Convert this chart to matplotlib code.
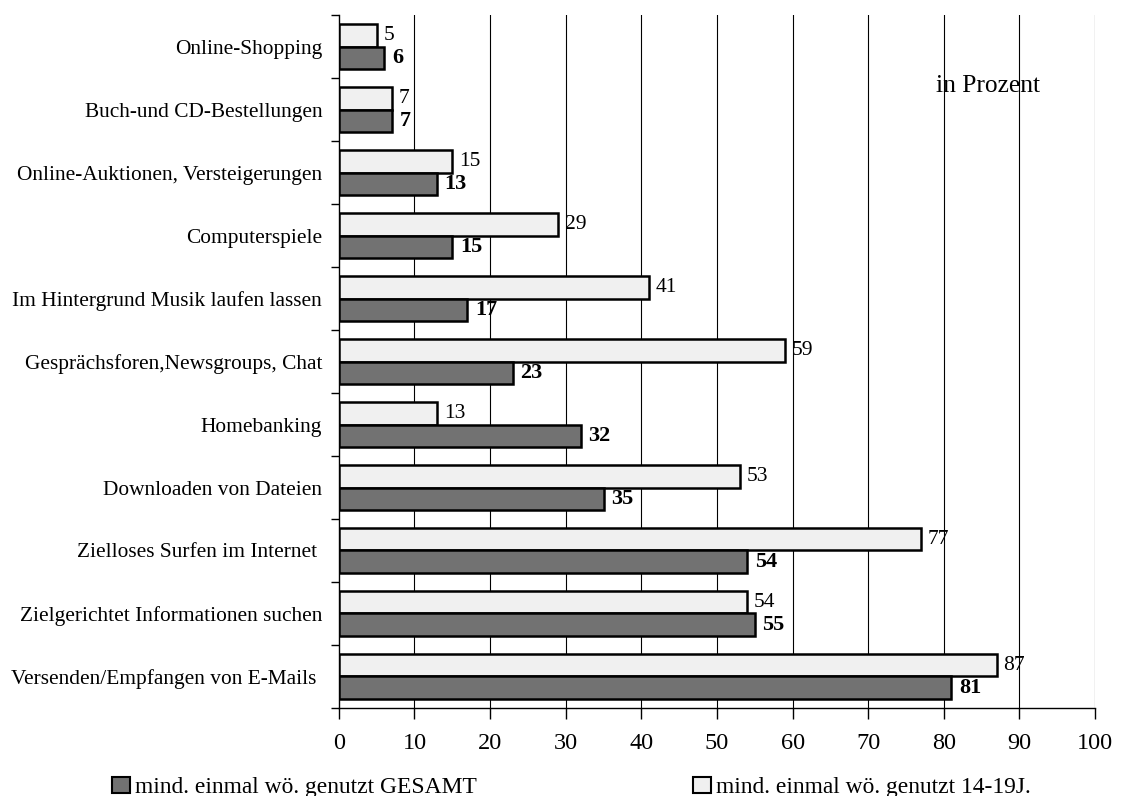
import matplotlib
matplotlib.use("Agg")
import matplotlib.pyplot as plt
from matplotlib.patches import Rectangle
import numpy as np

categories = [
    "Online-Shopping",
    "Buch-und CD-Bestellungen",
    "Online-Auktionen, Versteigerungen",
    "Computerspiele",
    "Im Hintergrund Musik laufen lassen",
    "Gesprächsforen,Newsgroups, Chat",
    "Homebanking",
    "Downloaden von Dateien",
    "Zielloses Surfen im Internet ",
    "Zielgerichtet Informationen suchen",
    "Versenden/Empfangen von E-Mails ",
]
gesamt = [6, 7, 13, 15, 17, 23, 32, 35, 54, 55, 81]
jugend = [5, 7, 15, 29, 41, 59, 13, 53, 77, 54, 87]
legend_labels = ["mind. einmal wö. genutzt GESAMT", "mind. einmal wö. genutzt 14-19J."]
xticks = list(range(0, 101, 10))

plt.rcParams['font.family'] = ['Liberation Serif', 'DejaVu Serif']

fig = plt.figure(figsize=(11.22, 7.96), dpi=100)
ax = fig.add_axes([0.302, 0.1106, 0.674, 0.8704])

dark = '#727272'
light = '#f0f0f0'
n = len(categories)
y = np.arange(n)
h = 0.36

ax.barh(y - h / 2, jugend, height=h, color=light, edgecolor='black', linewidth=1.8, zorder=3)
ax.barh(y + h / 2, gesamt, height=h, color=dark, edgecolor='black', linewidth=1.8, zorder=3)

for i in range(n):
    ax.text(jugend[i] + 0.9, y[i] - h / 2, str(jugend[i]), va='center', ha='left', fontsize=15.5, zorder=4)
    ax.text(gesamt[i] + 1.0, y[i] + h / 2, str(gesamt[i]), va='center', ha='left', fontsize=16,
            fontweight='bold', zorder=4)

ax.set_xlim(0, 100)
ax.set_ylim(n - 0.5, -0.5)
ax.set_xticks(xticks)
ax.set_xticklabels([str(t) for t in xticks], fontsize=17.5)
ax.tick_params(axis='x', direction='out', length=8, width=1, pad=10)

ax.set_yticks(np.arange(-0.5, n, 1.0))
ax.set_yticklabels([])
ax.set_yticks(y, minor=True)
ax.set_yticklabels(categories, minor=True, fontsize=15.4)
ax.tick_params(axis='y', which='major', direction='out', length=6, width=1)
ax.tick_params(axis='y', which='minor', length=0, pad=12)

for t in xticks[1:]:
    ax.axvline(t, color='black', linewidth=0.8, zorder=1)

for s in ['top', 'right']:
    ax.spines[s].set_visible(False)
ax.spines['left'].set_linewidth(1)
ax.spines['bottom'].set_linewidth(1)

ax.text(0.858, 0.897, "in Prozent", transform=ax.transAxes, ha='center', va='center', fontsize=18.4)

# legend
W, H = 1122, 796
def sq(x, ytop, color):
    fig.patches.append(Rectangle((x / W, 1 - (ytop + 16) / H), 18 / W, 16 / H, transform=fig.transFigure,
                                 facecolor=color, edgecolor='black', linewidth=1.5))
sq(112, 777, dark)
fig.text(135 / W, 1 - 793 / H, legend_labels[0], fontsize=16.9, va='baseline', ha='left')
sq(693, 777, light)
fig.text(716 / W, 1 - 793 / H, legend_labels[1], fontsize=16.9, va='baseline', ha='left')

fig.savefig("out.png", dpi=100)
